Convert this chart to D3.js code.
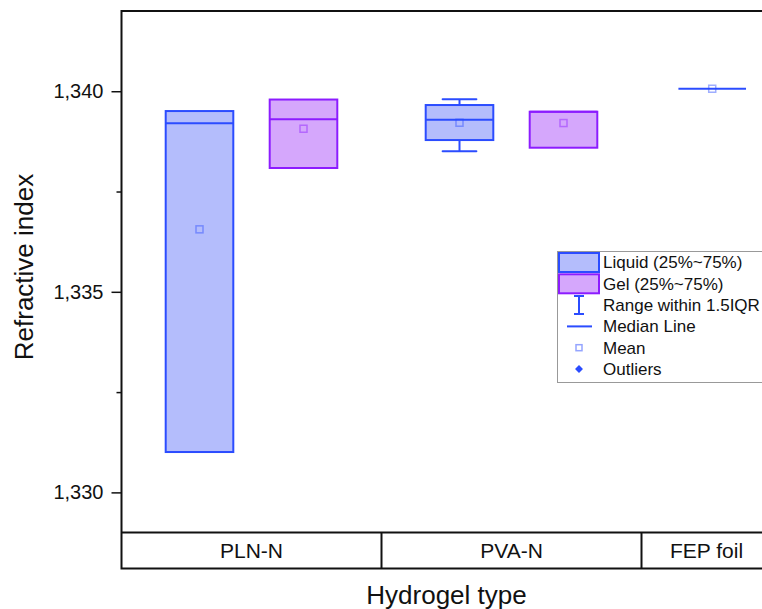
<!DOCTYPE html>
<meta charset="utf-8" />
<style>
  body {
    background: #fff;
    margin: 0px;
  }

  text {
    font-family: "Liberation Sans", Arial, sans-serif;
    fill: #111;
  }

  .frame {
    fill: none;
    stroke: #111;
    stroke-width: 2px;
  }
</style>
<body></body>
<script src="https://cdn.jsdelivr.net/npm/d3@7"></script>
<script>
  var width = 762,
    height = 609;

  // data
  var groups = ["PLN-N", "PVA-N", "FEP foil"];
  var groupBounds = [0.25, 2.75, 5.25, 6.5];
  var boxPos = [1, 2, 3.5, 4.5, 5.93];
  var boxSeries = ["Liquid", "Gel", "Liquid", "Gel", "Liquid"];
  var q1 = [1.331006, 1.338086, 1.338783, 1.338592, 1.340062];
  var q3 = [1.339506, 1.339793, 1.339656, 1.339489, 1.340062];
  var median = [1.3392, 1.3393, 1.33929, 1.339489, 1.340062];
  var mean = [1.336557, 1.339065, 1.339215, 1.339207, 1.340062];
  var whiskLo = [1.331006, 1.338086, 1.338502, 1.338592, 1.340062];
  var whiskHi = [1.339506, 1.339793, 1.339798, 1.339489, 1.340062];

  var majorTicks = [1.33, 1.335, 1.34];
  var minorTicks = [1.3325, 1.3375];

  var legendLabels = [
    "Liquid (25%~75%)",
    "Gel (25%~75%)",
    "Range within 1.5IQR",
    "Median Line",
    "Mean",
    "Outliers",
  ];

  var colors = {
    Liquid: { fill: "#b4bdfc", stroke: "#2b4cff" },
    Gel: { fill: "#d5a7fc", stroke: "#8c1cff" },
  };

  var plotLeft = 121.5,
    plotRight = 771.5,
    plotTop = 11,
    plotBottom = 532.5,
    stripBottom = 568.5;

  var x = d3.scaleLinear().domain([0.25, 6.5]).range([plotLeft, plotRight]);
  var y = d3.scaleLinear().domain([1.329, 1.342]).range([plotBottom, plotTop]);
  var boxW = x(0.65) - x(0);

  var fmt = d3
    .formatLocale({ decimal: ",", thousands: ".", grouping: [3], currency: ["", ""] })
    .format(".3f");

  var svg = d3
    .select("body")
    .append("svg")
    .attr("width", width)
    .attr("height", height);

  var boxes = boxPos.map(function (p, i) {
    return {
      pos: p,
      series: boxSeries[i],
      q1: q1[i],
      q3: q3[i],
      median: median[i],
      mean: mean[i],
      lo: whiskLo[i],
      hi: whiskHi[i],
    };
  });

  var g = svg.append("g").selectAll("g").data(boxes).enter().append("g");

  g.each(function (d) {
    var s = d3.select(this);
    var c = colors[d.series].stroke;
    var cx = x(d.pos);
    // whiskers
    [
      [d.hi, d.q3],
      [d.lo, d.q1],
    ].forEach(function (w) {
      if (w[0] === w[1]) return;
      s.append("line")
        .attr("x1", cx)
        .attr("x2", cx)
        .attr("y1", y(w[0]))
        .attr("y2", y(w[1]))
        .attr("stroke", c)
        .attr("stroke-width", 2);
      s.append("line")
        .attr("x1", cx - boxW / 4)
        .attr("x2", cx + boxW / 4)
        .attr("y1", y(w[0]))
        .attr("y2", y(w[0]))
        .attr("stroke", c)
        .attr("stroke-width", 2)
        .attr("stroke-linecap", "round");
    });

    s.append("rect")
      .attr("x", cx - boxW / 2)
      .attr("y", y(d.q3))
      .attr("width", boxW)
      .attr("height", Math.max(0, y(d.q1) - y(d.q3)))
      .attr("fill", colors[d.series].fill)
      .attr("stroke", c)
      .attr("stroke-width", 2);

    s.append("line")
      .attr("x1", cx - boxW / 2)
      .attr("x2", cx + boxW / 2)
      .attr("y1", y(d.median))
      .attr("y2", y(d.median))
      .attr("stroke", c)
      .attr("stroke-width", 2);

    s.append("rect")
      .attr("x", cx - 3.5)
      .attr("y", y(d.mean) - 3.5)
      .attr("width", 7)
      .attr("height", 7)
      .attr("fill", "none")
      .attr("stroke", c)
      .attr("stroke-opacity", 0.45)
      .attr("stroke-width", 1.5);
  });

  // frame: top, left, category strip
  svg
    .append("path")
    .attr("class", "frame")
    .attr(
      "d",
      "M" + (plotRight + 5) + "," + plotTop + "H" + plotLeft + "V" + stripBottom + "H" + (plotRight + 5)
    );
  svg
    .append("line")
    .attr("class", "frame")
    .attr("x1", plotLeft)
    .attr("x2", plotRight + 5)
    .attr("y1", plotBottom)
    .attr("y2", plotBottom);

  var strip = svg.append("g");
  strip
    .selectAll("line")
    .data(groupBounds.slice(1, -1))
    .enter()
    .append("line")
    .attr("class", "frame")
    .attr("x1", function (d) {
      return x(d);
    })
    .attr("x2", function (d) {
      return x(d);
    })
    .attr("y1", plotBottom)
    .attr("y2", stripBottom);

  strip
    .selectAll("text")
    .data(groups)
    .enter()
    .append("text")
    .attr("x", function (d, i) {
      return (x(groupBounds[i]) + x(groupBounds[i + 1])) / 2;
    })
    .attr("y", 558)
    .attr("text-anchor", "middle")
    .style("font-size", "21px")
    .text(function (d) {
      return d;
    });

  // y axis
  svg
    .append("g")
    .attr("transform", "translate(" + plotLeft + ",0)")
    .call(
      d3.axisLeft(y).tickValues(majorTicks).tickFormat(fmt).tickSize(10).tickPadding(8)
    )
    .call(function (a) {
      a.select(".domain").remove();
      a.selectAll("line").attr("stroke", "#111").attr("stroke-width", 1.5);
      a.selectAll("text")
        .style("font-size", "20px")
        .style("font-family", '"Liberation Sans", Arial, sans-serif')
        .attr("fill", "#111");
    });
  svg
    .append("g")
    .attr("transform", "translate(" + plotLeft + ",0)")
    .call(d3.axisLeft(y).tickValues(minorTicks).tickFormat("").tickSize(5))
    .call(function (a) {
      a.select(".domain").remove();
      a.selectAll("line").attr("stroke", "#111").attr("stroke-width", 1.5);
    });

  svg
    .append("text")
    .attr("transform", "translate(33,267) rotate(-90)")
    .attr("text-anchor", "middle")
    .style("font-size", "26px")
    .text("Refractive index");

  svg
    .append("text")
    .attr("x", (plotLeft + plotRight) / 2)
    .attr("y", 604)
    .attr("text-anchor", "middle")
    .style("font-size", "26px")
    .text("Hydrogel type");

  // legend
  var lg = svg.append("g").attr("transform", "translate(557,251)");
  lg.append("rect")
    .attr("x", 0.5)
    .attr("y", 0.5)
    .attr("width", 240)
    .attr("height", 131)
    .attr("fill", "#fff")
    .attr("stroke", "#999")
    .attr("stroke-width", 1);

  var rowH = 21.3,
    row0 = 11.5,
    symX = 22;

  lg.selectAll("text")
    .data(legendLabels)
    .enter()
    .append("text")
    .attr("x", 46)
    .attr("y", function (d, i) {
      return row0 + i * rowH;
    })
    .attr("dy", "0.35em")
    .style("font-size", "17px")
    .text(function (d) {
      return d;
    });

  ["Liquid", "Gel"].forEach(function (s, i) {
    lg.append("rect")
      .attr("x", 2)
      .attr("y", row0 + i * rowH - 9.5)
      .attr("width", 40)
      .attr("height", 19)
      .attr("fill", colors[s].fill)
      .attr("stroke", colors[s].stroke)
      .attr("stroke-width", 2);
  });

  var blue = colors.Liquid.stroke;
  var ry = row0 + 2 * rowH;
  lg.append("path")
    .attr(
      "d",
      "M" + (symX - 5) + "," + (ry - 9) + "H" + (symX + 5) +
        "M" + symX + "," + (ry - 9) + "V" + (ry + 9) +
        "M" + (symX - 5) + "," + (ry + 9) + "H" + (symX + 5)
    )
    .attr("stroke", blue)
    .attr("stroke-width", 2)
    .attr("fill", "none");

  var my = row0 + 3 * rowH;
  lg.append("line")
    .attr("x1", symX - 12)
    .attr("x2", symX + 13)
    .attr("y1", my)
    .attr("y2", my)
    .attr("stroke", blue)
    .attr("stroke-width", 2);

  var meanY = row0 + 4 * rowH;
  lg.append("rect")
    .attr("x", symX - 3)
    .attr("y", meanY - 3)
    .attr("width", 6)
    .attr("height", 6)
    .attr("fill", "none")
    .attr("stroke", blue)
    .attr("stroke-opacity", 0.5)
    .attr("stroke-width", 1.5);

  var oy = row0 + 5 * rowH;
  lg.append("path")
    .attr("d", d3.symbol(d3.symbolDiamond2, 40)())
    .attr("transform", "translate(" + symX + "," + oy + ")")
    .attr("fill", blue);
</script>
